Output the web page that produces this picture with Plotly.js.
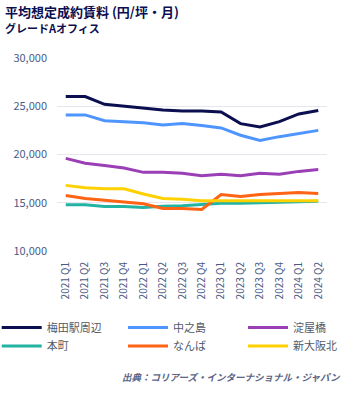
<!DOCTYPE html>
<html><head><meta charset="utf-8">
<script src="https://cdn.plot.ly/plotly-3.0.1.min.js"></script>
<style>html,body{margin:0;padding:0;background:#fff;}#chart{width:357px;height:395px;}</style>
</head><body><div id="chart"></div>
<script>
const quarters = ["2021 Q1","2021 Q2","2021 Q3","2021 Q4","2022 Q1","2022 Q2","2022 Q3","2022 Q4","2023 Q1","2023 Q2","2023 Q3","2023 Q4","2024 Q1","2024 Q2"];
const seriesNames = ["梅田駅周辺","中之島","淀屋橋","本町","なんば","新大阪北"];
const umeda      = [26000,26000,25200,25000,24800,24600,24500,24500,24400,23200,22850,23400,24200,24550];
const nakanoshima= [24100,24100,23500,23400,23300,23050,23200,23000,22750,22000,21450,21850,22200,22500];
const yodoyabashi= [19600,19100,18850,18600,18150,18150,18050,17800,17950,17800,18050,17950,18250,18450];
const honmachi   = [14800,14800,14600,14600,14500,14650,14700,14850,14950,14950,15000,15050,15100,15150];
const namba      = [15750,15450,15250,15050,14900,14400,14400,14300,15850,15650,15850,15950,16050,15950];
const shinosaka  = [16800,16550,16450,16450,15900,15450,15350,15200,15200,15200,15200,15200,15200,15200];
const colors = ["#0b0e4f","#4f95ff","#9a3fb5","#23b3a3","#ff6314","#ffd100"];
const values = [umeda,nakanoshima,yodoyabashi,honmachi,namba,shinosaka];

const font = "'Noto Sans CJK JP','Noto Sans',sans-serif";
const legendIds = ["legend","legend2","legend3","legend4","legend5","legend6"];
const traces = values.map((v,i)=>({
  x: quarters, y: v, type:'scatter', mode:'lines', name: seriesNames[i], legend: legendIds[i],
  line:{color:colors[i], width:3}, hoverinfo:'skip'
}));

const W = 270, H = 193, L = 57, T = 58;
const px = a => (a - L) / W;
const py = b => (T + H - b) / H;
const colLeft = [-3.3, 123, 243];
const rowTop = [313, 331.5];
const mkLegend = (i) => ({orientation:'v', xanchor:'left', yanchor:'top',
  x: px(colLeft[i % 3]), y: py(rowTop[Math.floor(i / 3)]),
  itemwidth:40, font:{size:11, color:'#555a66', family:font}, bgcolor:'rgba(0,0,0,0)', borderwidth:0});

const layout = {
  width:357, height:395,
  margin:{l:L, r:357-L-W, t:T, b:395-T-H, autoexpand:false},
  paper_bgcolor:'#fff', plot_bgcolor:'#fff',
  font:{family:font, color:'#4b5a85'},
  showlegend:true,
  xaxis:{type:'category', range:[-0.45,13.45], tickangle:-90, automargin:false,
    tickfont:{size:10, color:'#4b5a85', family:font}, showgrid:false, zeroline:false,
    showline:false, ticks:'', ticklen:0, ticklabelstandoff:8},
  yaxis:{range:[10000,30000], dtick:5000, tickformat:',.0f', automargin:false,
    tickfont:{size:11, color:'#4b5a85', family:font}, gridcolor:'#e6e6ef', gridwidth:1,
    zeroline:false, showline:false, ticks:'', ticklen:0, ticklabelstandoff:9},
  annotations:[
    {text:'<b>平均想定成約賃料 (円/坪・月)</b>', xref:'paper', yref:'paper', x:px(4), y:py(11.5),
     xanchor:'left', yanchor:'middle', showarrow:false, borderpad:0, font:{size:13, color:'#0b0e4f', family:font}},
    {text:'<b>グレードAオフィス</b>', xref:'paper', yref:'paper', x:px(4), y:py(28.5),
     xanchor:'left', yanchor:'middle', showarrow:false, borderpad:0, font:{size:11, color:'#0b0e4f', family:font}},
    {text:'<b><i>出典：コリアーズ・インターナショナル・ジャパン</i></b>', xref:'paper', yref:'paper', x:px(343), y:py(377),
     xanchor:'right', yanchor:'middle', showarrow:false, font:{size:9.5, color:'#5a6585', family:font}}
  ]
};
legendIds.forEach((id,i)=>{ layout[id] = mkLegend(i); });
Plotly.newPlot('chart', traces, layout, {staticPlot:true, displayModeBar:false});
</script></body></html>
